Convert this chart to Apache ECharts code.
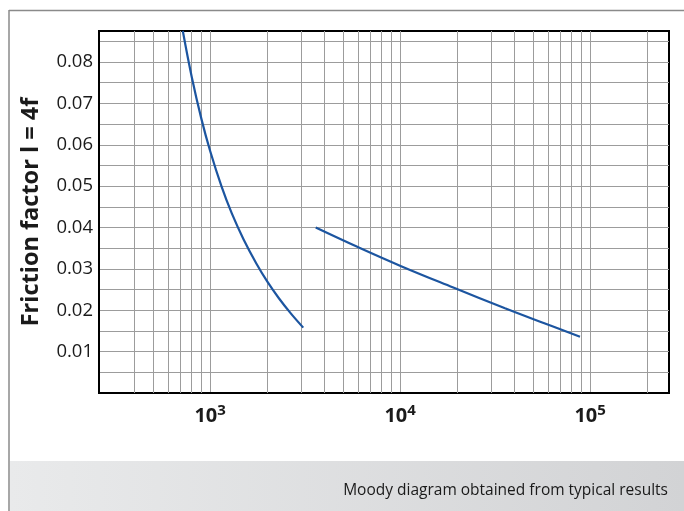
<!DOCTYPE html>
<html>
<head>
<meta charset="utf-8">
<script src="https://cdn.jsdelivr.net/npm/echarts@6/dist/echarts.min.js"></script>
<style>
html,body{margin:0;padding:0;background:#fff;}
#chart{width:684px;height:511px;}
</style>
</head>
<body>
<div id="chart"></div>
<script>
// Reynolds number axis range
const reMin = 260;
const reMax = 260000;
// Vertical minor gridlines (Re values)
const minorGridRe = [400, 500, 600, 700, 800, 900,
  2000, 3000, 4000, 5000, 6000, 7000, 8000, 9000,
  20000, 30000, 40000, 50000, 60000, 70000, 80000, 90000,
  200000];
// Laminar branch
const reLaminar = [718, 800, 900, 1000, 1150, 1300, 1500, 1750, 2000, 2300, 2650, 3090];
const fLaminar = [0.0875, 0.0764, 0.0662, 0.0585, 0.0498, 0.0434, 0.0371, 0.0313, 0.0269, 0.0229, 0.0193, 0.0158];
// Turbulent branch
const reTurbulent = [3594, 5906, 10190, 19040, 35630, 57860, 88430];
const fTurbulent = [0.0400, 0.0354, 0.0306, 0.0255, 0.0205, 0.0168, 0.0136];

const yAxisName = 'Friction factor l = 4f';
const caption = 'Moody diagram obtained from typical results';

const gridColor = '#9c9c9c';
const curveColor = '#1c55a0';
const font = 'Open Sans';

const chart = echarts.init(document.getElementById('chart'), null, {renderer: 'canvas'});

const option = {
  animation: false,
  backgroundColor: '#fff',
  grid: {left: 99, top: 31, right: 15, bottom: 118, show: true, borderColor: '#000', borderWidth: 2, backgroundColor: 'transparent'},
  xAxis: {
    type: 'log', logBase: 10, min: reMin, max: reMax,
    axisLine: {show: true, lineStyle: {color: '#000', width: 2}},
    axisTick: {show: false},
    splitLine: {show: true, showMinLine: false, showMaxLine: false, lineStyle: {color: gridColor, width: 1}},
    minorTick: {show: false},
    axisLabel: {
      margin: 10,
      showMinLabel: false, showMaxLabel: false,
      formatter: function (v) {
        const e = Math.log10(v);
        if (Math.abs(e - Math.round(e)) < 1e-6) {
          return '{b|10}{s|' + Math.round(e) + '}';
        }
        return '';
      },
      rich: {
        b: {fontFamily: font, fontSize: 20, fontWeight: 'bold', color: '#1a1a1a', lineHeight: 26},
        s: {fontFamily: font, fontSize: 15, fontWeight: 'bold', color: '#1a1a1a', verticalAlign: 'top', lineHeight: 15}
      }
    }
  },
  yAxis: {
    type: 'value', min: 0, max: 0.0875, interval: 0.005,
    name: yAxisName, nameLocation: 'middle', nameGap: 56,
    nameTextStyle: {fontFamily: font, fontSize: 23.5, fontWeight: 'bold', color: '#1a1a1a'},
    axisLine: {show: true, lineStyle: {color: '#000', width: 2}},
    axisTick: {show: false},
    splitLine: {show: true, showMinLine: false, showMaxLine: false, lineStyle: {color: gridColor, width: 1}},
    axisLabel: {
      margin: 6,
      fontFamily: font, fontSize: 18.5, color: '#1a1a1a',
      formatter: function (v) {
        const k = Math.round(v * 1000);
        if (k > 0 && k % 10 === 0 && k <= 80) return v.toFixed(2);
        return '';
      }
    }
  },
  series: [
    {
      type: 'line', data: [], z: 1, silent: true,
      markLine: {
        z: 1, silent: true, symbol: ['none', 'none'], animation: false,
        label: {show: false},
        lineStyle: {color: gridColor, width: 1, type: 'solid'},
        data: minorGridRe.map(v => ({xAxis: v}))
      }
    },
    {
      type: 'line', z: 10, smooth: 0.4, showSymbol: false, symbol: 'none',
      lineStyle: {color: curveColor, width: 2.2},
      data: reLaminar.map((r, i) => [r, fLaminar[i]])
    },
    {
      type: 'line', z: 10, smooth: 0.4, showSymbol: false, symbol: 'none',
      lineStyle: {color: curveColor, width: 2.2},
      data: reTurbulent.map((r, i) => [r, fTurbulent[i]])
    }
  ],
  graphic: [
    {type: 'rect', z: -10, shape: {x: 10, y: 461, width: 674, height: 50},
      style: {fill: new echarts.graphic.LinearGradient(0, 0, 1, 0, [{offset: 0, color: '#e9eaeb'}, {offset: 1, color: '#d2d3d5'}])}},
    {type: 'line', z: 50, shape: {x1: 9, y1: 10.5, x2: 684, y2: 10.5}, style: {stroke: '#8a8a8a', lineWidth: 1.5}},
    {type: 'line', z: 50, shape: {x1: 9, y1: 10, x2: 9, y2: 511}, style: {stroke: '#8a8a8a', lineWidth: 1.5}},
    {type: 'text', z: 50, style: {x: 668, y: 491, text: caption, align: 'right', verticalAlign: 'middle',
      font: '15.5px "Open Sans"', fill: '#1a1a1a'}}
  ]
};
chart.setOption(option);
</script>
</body>
</html>
